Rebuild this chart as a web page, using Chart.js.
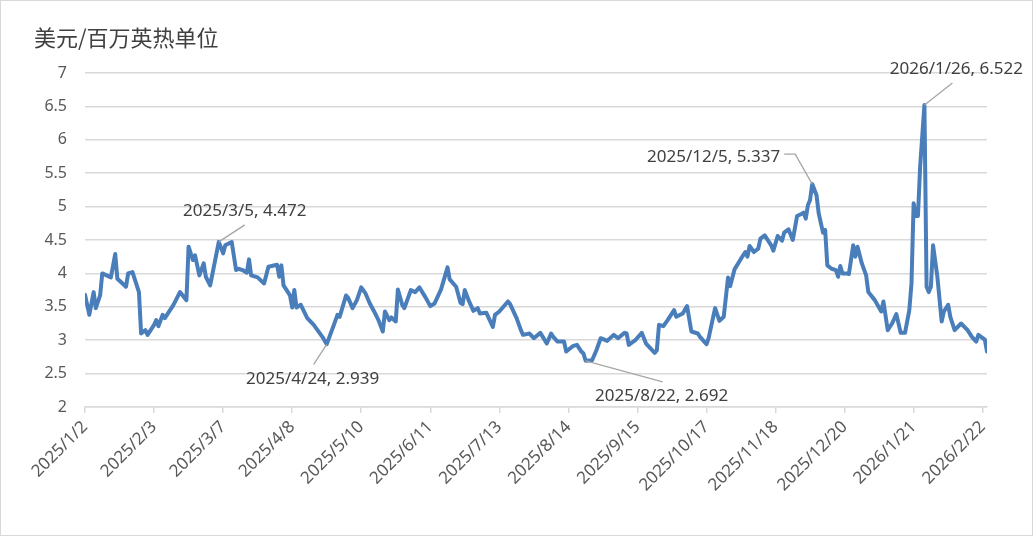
<!DOCTYPE html>
<html>
<head>
<meta charset="utf-8">
<script src="https://cdn.jsdelivr.net/npm/chart.js@4/dist/chart.umd.min.js"></script>
<style>
html,body{margin:0;padding:0;background:#fff;}
#wrap{width:1033px;height:536px;position:relative;}
</style>
</head>
<body>
<div id="wrap"><canvas id="c" width="1033" height="536"></canvas></div>
<script>
const unitTitle = '美元/百万英热单位';
const dates = [
'2025/1/2','2025/1/4','2025/1/6','2025/1/7','2025/1/9','2025/1/10','2025/1/14','2025/1/16','2025/1/17','2025/1/21',
'2025/1/22','2025/1/24','2025/1/27','2025/1/28','2025/1/30','2025/1/31','2025/2/3','2025/2/4','2025/2/5','2025/2/7',
'2025/2/8','2025/2/12','2025/2/15','2025/2/18','2025/2/19','2025/2/21','2025/2/22','2025/2/24','2025/2/26','2025/2/27',
'2025/3/1','2025/3/5','2025/3/7','2025/3/8','2025/3/11','2025/3/13','2025/3/14','2025/3/16','2025/3/18','2025/3/19',
'2025/3/20','2025/3/23','2025/3/26','2025/3/28','2025/4/1','2025/4/2','2025/4/3','2025/4/4','2025/4/7','2025/4/8',
'2025/4/9','2025/4/10','2025/4/12','2025/4/15','2025/4/18','2025/4/22','2025/4/24','2025/4/27','2025/4/29','2025/4/30',
'2025/5/3','2025/5/4','2025/5/6','2025/5/8','2025/5/10','2025/5/12','2025/5/14','2025/5/16','2025/5/18','2025/5/20',
'2025/5/21','2025/5/23','2025/5/24','2025/5/26','2025/5/27','2025/5/29','2025/5/30','2025/6/2','2025/6/4','2025/6/6',
'2025/6/9','2025/6/11','2025/6/13','2025/6/16','2025/6/19','2025/6/20','2025/6/23','2025/6/25','2025/6/26','2025/6/27',
'2025/6/29','2025/7/1','2025/7/3','2025/7/4','2025/7/7','2025/7/10','2025/7/11','2025/7/13','2025/7/17','2025/7/18',
'2025/7/21','2025/7/23','2025/7/24','2025/7/27','2025/7/29','2025/8/1','2025/8/4','2025/8/6','2025/8/7','2025/8/9',
'2025/8/12','2025/8/13','2025/8/16','2025/8/18','2025/8/20','2025/8/21','2025/8/22','2025/8/25','2025/8/27','2025/8/29',
'2025/9/1','2025/9/4','2025/9/6','2025/9/9','2025/9/10','2025/9/11','2025/9/14','2025/9/17','2025/9/19','2025/9/23',
'2025/9/24','2025/9/25','2025/9/27','2025/9/29','2025/10/2','2025/10/3','2025/10/6','2025/10/8','2025/10/10','2025/10/13',
'2025/10/14','2025/10/17','2025/10/18','2025/10/21','2025/10/23','2025/10/25','2025/10/27','2025/10/28','2025/10/30','2025/11/2',
'2025/11/4','2025/11/5','2025/11/6','2025/11/8','2025/11/10','2025/11/11','2025/11/13','2025/11/16','2025/11/17','2025/11/19',
'2025/11/21','2025/11/22','2025/11/24','2025/11/26','2025/11/28','2025/11/30','2025/12/1','2025/12/2','2025/12/3','2025/12/4',
'2025/12/5','2025/12/7','2025/12/8','2025/12/10','2025/12/11','2025/12/12','2025/12/14','2025/12/16','2025/12/17','2025/12/18',
'2025/12/19','2025/12/21','2025/12/22','2025/12/24','2025/12/25','2025/12/26','2025/12/28','2025/12/30','2025/12/31','2026/1/3',
'2026/1/6','2026/1/7','2026/1/9','2026/1/11','2026/1/13','2026/1/15','2026/1/17','2026/1/19','2026/1/20','2026/1/21',
'2026/1/22','2026/1/23','2026/1/24','2026/1/26','2026/1/27','2026/1/28','2026/1/29','2026/1/30','2026/2/1','2026/2/3',
'2026/2/4','2026/2/6','2026/2/7','2026/2/9','2026/2/12','2026/2/15','2026/2/17','2026/2/19','2026/2/20','2026/2/23',
'2026/2/24'
];
const prices = [
3.68,3.38,3.72,3.48,3.67,4.00,3.94,4.29,3.92,3.80,
4.00,4.02,3.72,3.10,3.15,3.08,3.23,3.30,3.21,3.38,
3.33,3.53,3.72,3.60,4.40,4.20,4.27,3.97,4.15,3.95,
3.82,4.472,4.30,4.42,4.47,4.05,4.07,4.05,4.01,4.21,
3.97,3.94,3.85,4.10,4.13,3.95,4.12,3.82,3.67,3.49,
3.75,3.49,3.53,3.33,3.23,3.05,2.939,3.20,3.38,3.35,
3.67,3.63,3.48,3.60,3.79,3.70,3.55,3.43,3.30,3.13,
3.43,3.30,3.34,3.28,3.76,3.53,3.48,3.75,3.72,3.79,
3.63,3.51,3.55,3.76,4.09,3.91,3.80,3.56,3.54,3.75,
3.58,3.44,3.48,3.40,3.41,3.20,3.38,3.43,3.58,3.54,
3.33,3.15,3.08,3.10,3.03,3.11,2.95,3.10,3.05,2.98,
2.98,2.83,2.91,2.93,2.83,2.80,2.692,2.70,2.85,3.03,
2.99,3.08,3.03,3.11,3.10,2.93,3.00,3.11,2.95,2.81,
2.85,3.23,3.21,3.30,3.45,3.35,3.40,3.51,3.13,3.10,
3.05,2.94,3.03,3.48,3.29,3.35,3.94,3.81,4.06,4.22,
4.32,4.25,4.41,4.32,4.37,4.52,4.57,4.42,4.34,4.56,
4.49,4.61,4.66,4.50,4.86,4.89,4.91,4.82,5.02,5.10,
5.337,5.17,4.90,4.61,4.65,4.12,4.07,4.05,3.95,4.11,
4.00,4.00,3.99,4.42,4.25,4.40,4.15,3.97,3.72,3.60,
3.43,3.58,3.15,3.25,3.39,3.11,3.11,3.45,3.85,5.05,
4.86,4.86,5.59,6.522,3.80,3.72,3.80,4.42,3.95,3.28,
3.43,3.53,3.35,3.15,3.25,3.15,3.05,2.98,3.08,3.01,
2.83
];
const tickDates = ['2025/1/2','2025/2/3','2025/3/7','2025/4/8','2025/5/10','2025/6/11','2025/7/13','2025/8/14','2025/9/15','2025/10/17','2025/11/18','2025/12/20','2026/1/21','2026/2/22'];
const yTicks = [2,2.5,3,3.5,4,4.5,5,5.5,6,6.5,7];
const labelledDates = ['2025/3/5','2025/4/24','2025/8/22','2025/12/5','2026/1/26'];

const BASE = Date.UTC(2025,0,2);
function dayOf(s){const p=s.split('/').map(Number);return Math.round((Date.UTC(p[0],p[1]-1,p[2])-BASE)/86400000);}
function dateOf(n){const d=new Date(BASE+n*86400000);return d.getUTCFullYear()+'/'+(d.getUTCMonth()+1)+'/'+d.getUTCDate();}

const points = dates.map((d,i)=>({x:dayOf(d),y:prices[i]}));
const tickVals = tickDates.map(dayOf);

const FONT = '"Noto Sans", "Open Sans", sans-serif';
const TXT = '#595959';

// placement of data-label callouts (offsets from the point, in px)
const calloutStyle = [
  {line:[[26,-17]], tx:26, ty:-31, align:'center'},
  {line:[[-13,20]], tx:-14, ty:35, align:'center'},
  {line:[[77,21]], tx:76, ty:35, align:'center'},
  {line:[[-17,-30],[-28,-30]], tx:-32, ty:-27, align:'right'},
  {line:[[28,-22]], tx:32, ty:-36, align:'center'}
];

const decor = {
  id:'decor',
  afterDatasetsDraw(chart){
    const ctx = chart.ctx, xs = chart.scales.x, ys = chart.scales.y;
    ctx.save();
    labelledDates.forEach((d,i)=>{
      const idx = dates.indexOf(d);
      const v = prices[idx];
      const px = xs.getPixelForValue(dayOf(d)), py = ys.getPixelForValue(v);
      const st = calloutStyle[i];
      ctx.strokeStyle = '#A6A6A6'; ctx.lineWidth = 1.3;
      ctx.beginPath(); ctx.moveTo(px,py);
      st.line.forEach(p=>ctx.lineTo(px+p[0],py+p[1]));
      ctx.stroke();
      ctx.fillStyle = '#404040';
      ctx.font = '17px ' + FONT;
      ctx.textAlign = st.align; ctx.textBaseline = 'middle';
      ctx.fillText(d + ', ' + v.toFixed(3), px+st.tx, py+st.ty);
    });
    ctx.restore();
  },
  afterDraw(chart){
    const ctx = chart.ctx;
    ctx.save();
    ctx.fillStyle = '#404040';
    ctx.font = '22px "Noto Sans CJK SC", sans-serif';
    ctx.textAlign = 'left'; ctx.textBaseline = 'middle';
    ctx.fillText(unitTitle, 34, 38);
    ctx.strokeStyle = '#D9D9D9'; ctx.lineWidth = 1;
    ctx.strokeRect(0.5,0.5,1032,535);
    ctx.restore();
  }
};

new Chart(document.getElementById('c'), {
  type:'line',
  data:{datasets:[{
    data:points,
    borderColor:'#4A7EBB',
    borderWidth:4,
    pointRadius:0,
    tension:0,
    borderJoinStyle:'round',
    borderCapStyle:'round'
  }]},
  options:{
    responsive:false,
    animation:false,
    events:[],
    layout:{padding:{top:73,right:46,bottom:0,left:0}},
    plugins:{legend:{display:false},tooltip:{enabled:false},title:{display:false}},
    scales:{
      x:{
        type:'linear',
        min:0,
        max:dayOf(dates[dates.length-1]),
        afterBuildTicks(s){ s.ticks = tickVals.map(v=>({value:v})); },
        afterFit(s){ s.height = 129; },
        ticks:{
          autoSkip:false, maxRotation:45, minRotation:45,
          color:TXT, font:{family:FONT,size:17}, padding:4,
          callback:(v)=>dateOf(v)
        },
        grid:{drawOnChartArea:false, drawTicks:true, tickLength:6, color:'#D9D9D9', lineWidth:1.5},
        border:{display:true, color:'#D9D9D9', width:1.5}
      },
      y:{
        min:2, max:7,
        afterBuildTicks(s){ s.ticks = yTicks.map(v=>({value:v})); },
        afterFit(s){ s.width = 85; },
        ticks:{color:TXT, font:{family:FONT,size:16}, padding:18, callback:(v)=>String(v)},
        grid:{color:'#D9D9D9', lineWidth:1.5, drawTicks:false},
        border:{display:false}
      }
    }
  },
  plugins:[decor]
});
</script>
</body>
</html>
